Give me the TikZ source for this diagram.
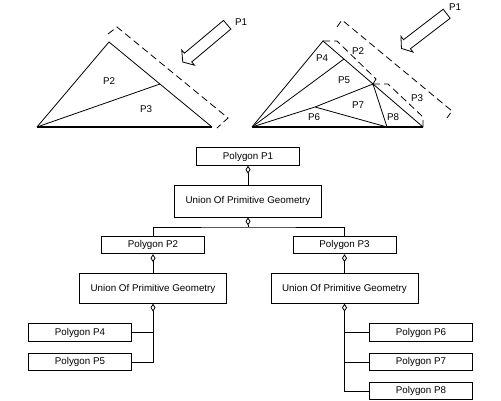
\documentclass[tikz,border=0pt]{standalone}
\usepackage{fontspec}
\setmainfont{Liberation Sans}
\usetikzlibrary{arrows.meta, positioning, shapes.arrows}

\begin{document}
\begin{tikzpicture}[x=1pt, y=-1pt, line width=0.8pt,
    every node/.style={font=\fontsize{9.8}{11}\selectfont},
    box/.style={draw, minimum width=103pt, minimum height=17.5pt, inner sep=0pt},
    unionbox/.style={draw, minimum width=147pt, minimum height=29.5pt, inner sep=0pt},
    bracket/.style={dash pattern=on 7pt off 4pt},
    base/.style={line width=1.6pt},
    agg/.style={{Diamond[open, length=8pt, width=5pt]}-},
    blockarrow/.style={draw, single arrow, single arrow head extend=4.2pt,
        single arrow tip angle=110, inner sep=5.3pt, minimum height=58pt, anchor=tail}]
    \useasboundingbox (0,0) rectangle (501,401);

    % Left triangle
    \coordinate (a) at (37,127);
    \coordinate (b) at (109,42);
    \coordinate (c) at (212,127);
    \coordinate (d) at (160,84);
    \draw (c) -- (b) -- (a);
    \draw[base] (a) -- (c);
    \draw (a) -- (d);
    \draw[bracket] (108,34) -- (117,27) -- (228,118) -- (217,128);
    \node[blockarrow, rotate=220] (arrowL) at (227.5,24.5) {};
    \node (lP1) at (241,22) {P1};
    \node (lP2) at (109,81) {P2};
    \node (lP3) at (146,109) {P3};

    % Right triangle
    \coordinate (e) at (252,127);
    \coordinate (f) at (323,41);
    \coordinate (g) at (423,127);
    \coordinate (m) at (373,84);
    \coordinate (k) at (344,59);
    \coordinate (q) at (315,107);
    \coordinate (r) at (387,127);
    \draw (g) -- (f) -- (e);
    \draw[base] (e) -- (g);
    \draw (e) -- (k);
    \draw (e) -- (q) -- (m) -- (r) -- (q);
    \fill (m) circle (1.3pt);
    \draw[bracket] (337,27) -- (342,20) -- (452,111) -- (447,118);
    \draw[bracket] (f) -- (337,41) -- (376,79) -- (m);
    \draw[bracket] (m) -- (388,84) -- (423,117) -- (g);
    \node[blockarrow, rotate=217.5, minimum height=57pt] (arrowR) at (447,13.5) {};
    \node (rP1) at (455,7) {P1};
    \node (rP2) at (358,51) {P2};
    \node (rP4) at (322,58) {P4};
    \node (rP5) at (344,80) {P5};
    \node (rP3) at (417,98) {P3};
    \node (rP7) at (358,105) {P7};
    \node (rP6) at (314,117) {P6};
    \node (rP8) at (393,117) {P8};

    % Composition tree
    \node[box] (p1) at (248,156.5) {Polygon P1};
    \node[unionbox, minimum height=32pt] (u1) at (248,201) {Union Of Primitive Geometry};
    \node[box] (p2) at (153,245) {Polygon P2};
    \node[box] (p3) at (344.5,245) {Polygon P3};
    \node[unionbox] (u2) at (153,288.5) {Union Of Primitive Geometry};
    \node[unionbox] (u3) at (344.5,288.5) {Union Of Primitive Geometry};
    \node[box] (p4) at (80,332.5) {Polygon P4};
    \node[box] (p5) at (80,362) {Polygon P5};
    \node[box] (p6) at (421,332.5) {Polygon P6};
    \node[box] (p7) at (421,362) {Polygon P7};
    \node[box] (p8) at (421,391) {Polygon P8};

    % Aggregation links
    \coordinate (j1) at (248,227);
    \draw[agg] (p1.south) -- (u1.north);
    \draw[agg] (u1.south) -- (j1);
    \draw (p2.north) |- (j1) -| (p3.north);
    \draw[agg] (p2.south) -- (u2.north);
    \draw[agg] (p3.south) -- (u3.north);
    \draw[agg] (u2.south) |- (p5.east);
    \draw (p4.east) -- (p4 -| u2.south);
    \draw[agg] (u3.south) |- (p8.west);
    \draw (p6.west) -- (p6 -| u3.south);
    \draw (p7.west) -- (p7 -| u3.south);

\end{tikzpicture}
\end{document}
